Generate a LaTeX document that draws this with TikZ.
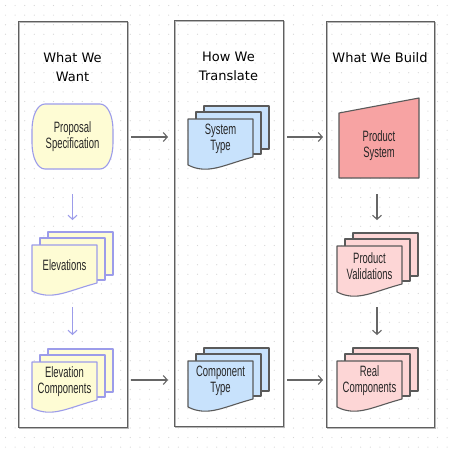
\documentclass[tikz,border=0pt]{standalone}
\usepackage{fontspec}
\setmainfont{DejaVu Sans}
\newfontfamily\titlefont{DejaVu Sans}
\newfontfamily\shapefont[FakeStretch=0.63]{Liberation Sans}
\usetikzlibrary{arrows.meta}
\definecolor{gridc}{HTML}{D6D6D6}
\definecolor{colline}{HTML}{5F5F5F}
\definecolor{colshadow}{HTML}{B8B8B8}
\definecolor{yelfill}{HTML}{FEFCD4}
\definecolor{lavline}{HTML}{9C9CEA}
\definecolor{bluefill}{HTML}{C8E2FC}
\definecolor{pinkfill}{HTML}{FDD6D6}
\definecolor{redfill}{HTML}{F7A3A3}
\definecolor{darkline}{HTML}{5A5A5A}
\definecolor{arrowc}{HTML}{666666}
\tikzset{
  docline/.style={line width=1.1pt, line join=round},
  colbox/.style={draw=colline, line width=1pt},
  colshade/.style={draw=colshadow, line width=1.2pt},
  titletext/.style={font=\titlefont\fontsize{13}{19}\selectfont, align=center, text=black, inner sep=0pt},
  shapetext/.style={font=\shapefont\fontsize{15}{16}\selectfont, align=center, text=black!85, inner sep=0pt},
  flow/.style={draw=arrowc, line width=1.2pt, -{Straight Barb[length=4pt,width=9pt,line width=1.1pt]}},
  lavflow/.style={flow, draw=lavline},
}
\newcommand{\mdoc}[6]{%
  \begin{scope}[shift={(#1,#2)}]
    \draw[docline, draw=#4, fill=#3] (16,-13) rectangle (81,30);
    \draw[docline, draw=#4, fill=#3] (8,-7) rectangle (73,35);
    \draw[docline, draw=#4, fill=#3] (0,0) -- (65,0) -- (65,38) .. controls (35,46) and (20,56) .. (0,46) -- cycle;
    \node[shapetext] (#5) at (32.5,20) {#6};
  \end{scope}}
\begin{document}
\begin{tikzpicture}[x=1pt,y=-1pt]
\useasboundingbox (0,0) rectangle (455,448);
\fill[white] (0,0) rectangle (455,448);
% dotted grid
\foreach \gx in {0,...,47} {
  \foreach \gy in {0,...,46} {
    \fill[gridc] (5.5+9.6*\gx,5.5+9.6*\gy) circle (0.6);
  }
}
% columns
\draw[colshade] (19.5,22.5) rectangle (128.5,428.5);
\draw[colbox] (18,21) rectangle (127,427);
\draw[colshade] (175.5,21.5) rectangle (284.5,427.5);
\draw[colbox] (174,20) rectangle (283,426);
\draw[colshade] (327.5,22.5) rectangle (435.5,428.5);
\draw[colbox] (326,21) rectangle (434,427);
% titles
\node[titletext] (want) at (72.5,67.5) {What We\\Want};
\node[titletext] (translate) at (228.5,66.5) {How We\\Translate};
\node[titletext] (build) at (380,58) {What We Build};
% proposal specification (terminator)
\draw[docline, draw=lavline, fill=yelfill]
  (45,104) -- (100,104)
  .. controls (107.7,104) and (113,116) .. (113,130) -- (113,143)
  .. controls (113,157) and (107.7,169) .. (100,169) -- (45,169)
  .. controls (37.3,169) and (32,157) .. (32,143) -- (32,130)
  .. controls (32,116) and (37.3,104) .. (45,104) -- cycle;
\node[shapetext] (proposal) at (72.5,137) {Proposal\\Specification};
% multi documents
\mdoc{32}{245}{yelfill}{lavline}{elev}{Elevations}
\mdoc{32}{362}{yelfill}{lavline}{elevcomp}{Elevation\\Components}
\mdoc{188}{119}{bluefill}{darkline}{systype}{System\\Type}
\mdoc{188}{361}{bluefill}{darkline}{comptype}{Component\\Type}
\mdoc{337}{246}{pinkfill}{darkline}{prodval}{Product\\Validations}
\mdoc{337}{361}{pinkfill}{darkline}{realcomp}{Real\\Components}
% product system (manual input)
\draw[docline, draw=darkline, fill=redfill] (339,113) -- (419,98) -- (419,178) -- (339,178) -- cycle;
\node[shapetext] (prodsys) at (379,146) {Product\\System};
% connector end points
\coordinate (a1s) at (72.5,194);
\coordinate (a1e) at (72.5,220);
\coordinate (a2s) at (72.5,307);
\coordinate (a2e) at (72.5,335);
\coordinate (a3s) at (377,194);
\coordinate (a3e) at (377,220);
\coordinate (a4s) at (377,307);
\coordinate (a4e) at (377,335);
\coordinate (h1s) at (131,137);
\coordinate (h1e) at (168,137);
\coordinate (h2s) at (287,137);
\coordinate (h2e) at (323,137);
\coordinate (h3s) at (131,380);
\coordinate (h3e) at (168,380);
\coordinate (h4s) at (287,380);
\coordinate (h4e) at (323,380);
\draw[lavflow] (a1s) -- (a1e);
\draw[lavflow] (a2s) -- (a2e);
\draw[flow] (a3s) -- (a3e);
\draw[flow] (a4s) -- (a4e);
\draw[flow] (h1s) -- (h1e);
\draw[flow] (h2s) -- (h2e);
\draw[flow] (h3s) -- (h3e);
\draw[flow] (h4s) -- (h4e);
\end{tikzpicture}
\end{document}
